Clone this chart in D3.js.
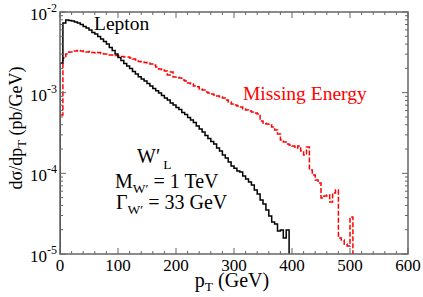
<!DOCTYPE html>
<html>
<head>
<meta charset="utf-8">
<script src="https://cdn.jsdelivr.net/npm/d3@7"></script>
<style>
  body { margin: 0; background: #fff; }
  text { font-family: "Liberation Serif", "Times New Roman", serif; }
</style>
</head>
<body>
<div id="chart"></div>
<script>
var w = 423, h = 297;

// histogram bins, 5 GeV wide, starting at 0
var binWidth = 5;

// lepton pT distribution (pb/GeV), bins 0-5 ... 390-395
var lepton = [
  2.33e-3, 7.31e-3, 7.96e-3, 7.85e-3, 7.73e-3, 7.51e-3, 7.31e-3, 7.00e-3, 6.61e-3, 6.34e-3,
  5.98e-3, 5.57e-3, 5.33e-3, 4.97e-3, 4.62e-3, 4.31e-3, 4.01e-3, 3.63e-3, 3.33e-3, 3.01e-3,
  2.73e-3, 2.51e-3, 2.30e-3, 2.14e-3, 2.00e-3, 1.83e-3, 1.70e-3, 1.58e-3, 1.48e-3, 1.40e-3,
  1.30e-3, 1.21e-3, 1.13e-3, 1.06e-3, 9.91e-4, 9.23e-4, 8.59e-4, 8.11e-4, 7.45e-4, 7.03e-4,
  6.55e-4, 6.18e-4, 5.68e-4, 5.36e-4, 4.92e-4, 4.58e-4, 4.27e-4, 3.86e-4, 3.55e-4, 3.25e-4,
  2.94e-4, 2.70e-4, 2.48e-4, 2.31e-4, 2.06e-4, 1.89e-4, 1.69e-4, 1.55e-4, 1.38e-4, 1.23e-4,
  1.16e-4, 1.07e-4, 1.04e-4, 9.27e-5, 8.51e-5, 7.81e-5, 7.17e-5, 6.21e-5, 5.54e-5, 4.67e-5,
  4.17e-5, 3.51e-5, 2.96e-5, 2.49e-5, 2.35e-5, 1.93e-5, 1.98e-5, 1.58e-5, 1.98e-5
];

// missing energy distribution (pb/GeV), bins 0-5 ... 500-505
var missing = [
  5.28e-4, 2.69e-3, 3.01e-3, 3.19e-3, 3.19e-3, 3.29e-3, 3.33e-3, 3.29e-3, 3.24e-3, 3.19e-3,
  3.24e-3, 3.15e-3, 3.10e-3, 3.15e-3, 3.06e-3, 3.01e-3, 3.01e-3, 2.93e-3, 2.93e-3, 2.89e-3,
  2.85e-3, 2.81e-3, 2.77e-3, 2.77e-3, 2.69e-3, 2.61e-3, 2.54e-3, 2.43e-3, 2.40e-3, 2.36e-3,
  2.33e-3, 2.27e-3, 2.20e-3, 2.08e-3, 1.96e-3, 1.91e-3, 1.86e-3, 1.66e-3, 1.80e-3, 1.56e-3,
  1.56e-3, 1.52e-3, 1.44e-3, 1.40e-3, 1.32e-3, 1.28e-3, 1.21e-3, 1.18e-3, 1.11e-3, 1.08e-3,
  1.02e-3, 9.91e-4, 9.63e-4, 9.36e-4, 9.10e-4, 8.84e-4, 8.59e-4, 8.11e-4, 7.66e-4, 7.24e-4,
  7.03e-4, 6.84e-4, 6.64e-4, 6.28e-4, 6.10e-4, 5.93e-4, 5.76e-4, 5.60e-4, 5.44e-4, 4.46e-4,
  4.21e-4, 4.09e-4, 3.97e-4, 3.75e-4, 3.44e-4, 3.07e-4, 2.59e-4, 2.45e-4, 2.31e-4, 2.25e-4,
  2.18e-4, 2.06e-4, 2.18e-4, 1.89e-4, 1.69e-4, 2.12e-4, 1.10e-4, 9.53e-5, 8.27e-5, 7.59e-5,
  4.94e-5, 5.24e-5, 5.39e-5, 4.42e-5, 5.71e-5, 6.21e-5, 1.58e-5, 1.49e-5, 1.33e-5, 1.26e-5,
  2.88e-5
];

var xTicks = [0, 100, 200, 300, 400, 500, 600];
var yDecades = [-5, -4, -3, -2];

var pl = 60, pr = 408, pt = 12, pb = 254;

var svg = d3.select("#chart").append("svg").attr("width", w).attr("height", h);

var x = d3.scaleLinear().domain([0, 600]).range([pl, pr]);
var y = d3.scaleLog().domain([1e-5, 1e-2]).range([pb, pt]);

svg.append("clipPath").attr("id", "clip")
  .append("rect").attr("x", pl).attr("y", pt).attr("width", pr - pl).attr("height", pb - pt);

// turn bins into step points, starting and ending below the axis
var steps = function(vals){
  var pts = [[0, 1e-7]];
  for (var i = 0; i < vals.length; i++) pts.push([i * binWidth, vals[i]]);
  pts.push([vals.length * binWidth, 1e-7]);
  pts.push([vals.length * binWidth + 1, 1e-7]);
  return pts;
}

var line = d3.line()
  .x(function(d){ return x(d[0]); })
  .y(function(d){ return y(d[1]); })
  .curve(d3.curveStepAfter);

var g = svg.append("g").attr("clip-path", "url(#clip)");
g.append("path").attr("d", line(steps(missing)))
  .attr("fill", "none").attr("stroke", "#ff0000").attr("stroke-width", 1.5)
  .attr("stroke-dasharray", "5,2");
g.append("path").attr("d", line(steps(lepton)))
  .attr("fill", "none").attr("stroke", "#000").attr("stroke-width", 1.5);

// frame
var axisColor = "#666";
svg.append("rect").attr("x", pl).attr("y", pt).attr("width", pr - pl).attr("height", pb - pt)
  .attr("fill", "none").attr("stroke", axisColor).attr("stroke-width", 1.5);

// x ticks (major 100, minor 20), inward on top and bottom
var xMinor = d3.range(0, 601, 20);
xMinor.forEach(function(v){
  var len = (v % 100 === 0) ? 6 : 3;
  svg.append("line").attr("x1", x(v)).attr("x2", x(v)).attr("y1", pb).attr("y2", pb - len)
    .attr("stroke", axisColor).attr("stroke-width", 1);
  svg.append("line").attr("x1", x(v)).attr("x2", x(v)).attr("y1", pt).attr("y2", pt + len)
    .attr("stroke", axisColor).attr("stroke-width", 1);
});

svg.selectAll(".xlab").data(xTicks).enter().append("text")
  .attr("x", function(d){ return x(d); }).attr("y", 271)
  .attr("text-anchor", "middle").attr("font-size", 17).text(function(d){ return d; });

// y ticks, log
yDecades.forEach(function(e){
  var base = Math.pow(10, e);
  svg.append("line").attr("x1", pl).attr("x2", pl + 6).attr("y1", y(base)).attr("y2", y(base))
    .attr("stroke", axisColor).attr("stroke-width", 1);
  svg.append("line").attr("x1", pr).attr("x2", pr - 6).attr("y1", y(base)).attr("y2", y(base))
    .attr("stroke", axisColor).attr("stroke-width", 1);
  if (e < -2) {
    for (var k = 2; k <= 9; k++) {
      var v = k * base;
      svg.append("line").attr("x1", pl).attr("x2", pl + 3).attr("y1", y(v)).attr("y2", y(v))
        .attr("stroke", axisColor).attr("stroke-width", 1);
      svg.append("line").attr("x1", pr).attr("x2", pr - 3).attr("y1", y(v)).attr("y2", y(v))
        .attr("stroke", axisColor).attr("stroke-width", 1);
    }
  }
  var t = svg.append("text").attr("x", 57).attr("y", y(base) + 8).attr("text-anchor", "end").attr("font-size", 17);
  t.append("tspan").text("10");
  t.append("tspan").attr("font-size", 12).attr("dy", -8).text("-" + (-e));
});

// axis titles
var xt = svg.append("text").attr("x", 232).attr("y", 287).attr("text-anchor", "middle").attr("font-size", 20);
xt.append("tspan").text("p");
xt.append("tspan").attr("font-size", 13.5).attr("dy", 4).text("T");
xt.append("tspan").attr("dy", -4).text(" (GeV)");

var yt = svg.append("text").attr("transform", "translate(22,128) rotate(-90)")
  .attr("text-anchor", "middle").attr("font-size", 18);
yt.append("tspan").text("dσ/dp");
yt.append("tspan").attr("font-size", 12.5).attr("dy", 4).text("T");
yt.append("tspan").attr("dy", -4).text(" (pb/GeV)");

// labels
svg.append("text").attr("x", 94).attr("y", 30).attr("font-size", 19.5).text("Lepton");
svg.append("text").attr("x", 243).attr("y", 100).attr("font-size", 19.5).attr("fill", "#ff0000").text("Missing Energy");

var wl = svg.append("text").attr("x", 137).attr("y", 163).attr("font-size", 20);
wl.append("tspan").text("W′");
wl.append("tspan").attr("font-size", 13.5).attr("dx", 3).attr("dy", 6).text("L");

var ml = svg.append("text").attr("x", 115).attr("y", 187.5).attr("font-size", 20);
ml.append("tspan").text("M");
ml.append("tspan").attr("font-size", 13.5).attr("dy", 5).text("W′");
ml.append("tspan").attr("dy", -5).text(" = 1 TeV");

var gl = svg.append("text").attr("x", 116).attr("y", 208.5).attr("font-size", 20);
gl.append("tspan").text("Γ");
gl.append("tspan").attr("font-size", 13.5).attr("dy", 5).text("W′");
gl.append("tspan").attr("dy", -5).text(" = 33 GeV");
</script>
</body>
</html>
